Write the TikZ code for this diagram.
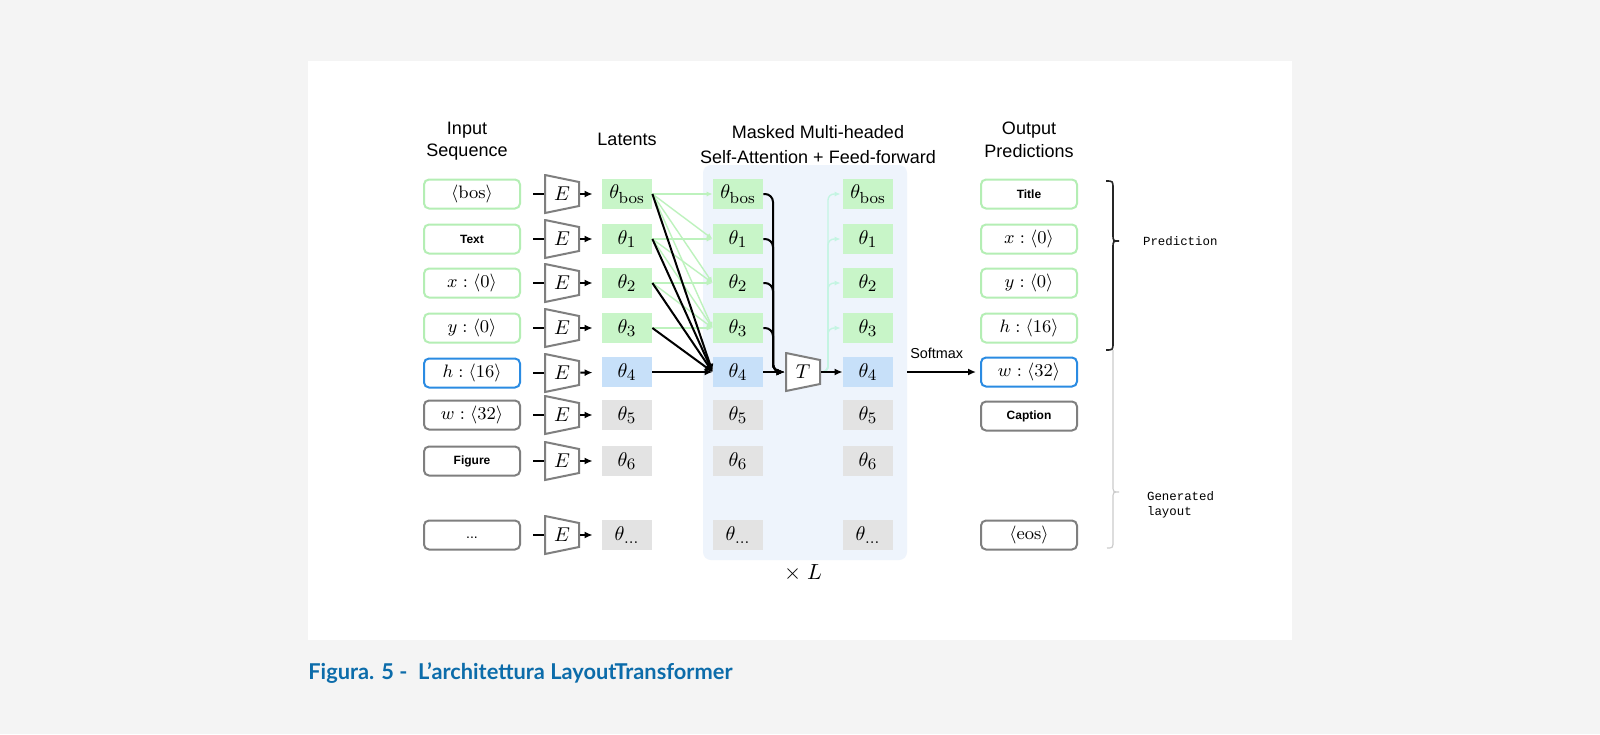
\documentclass[tikz,border=0pt]{standalone}
\usepackage[no-math]{fontspec}
\setmainfont{Liberation Sans}
\setsansfont{Liberation Sans}
\setmonofont{Liberation Mono}
\newfontfamily\latofont{Lato}
\DeclareMathSizes{10}{10}{8}{6}
\usetikzlibrary{arrows.meta}
\definecolor{pagegray}{HTML}{F4F4F4}
\definecolor{latgreen}{HTML}{C8F5C8}
\definecolor{edgegreen}{HTML}{B4EEB4}
\definecolor{attgreen}{HTML}{BDF2BD}
\definecolor{mint}{HTML}{C4F4E2}
\definecolor{latblue}{HTML}{C7E0F9}
\definecolor{edgeblue}{HTML}{2A8BE2}
\definecolor{latgray}{HTML}{E3E3E3}
\definecolor{edgegray}{HTML}{7F7F7F}
\definecolor{panelblue}{HTML}{EEF4FC}
\definecolor{capblue}{HTML}{0C6CAA}

\begin{document}
\begin{tikzpicture}[x=0.5pt,y=-0.5pt,
  every node/.style={font=\fontsize{10}{12}\selectfont},
  tok/.style={draw, rounded corners=2.5pt, line width=1pt, fill=white, minimum width=48pt, minimum height=14.5pt, inner sep=0pt, font=\fontsize{9}{10}\selectfont},
  tokg/.style={tok, draw=edgegreen},
  tokb/.style={tok, draw=edgeblue},
  tokk/.style={tok, draw=edgegray},
  word/.style={font=\fontsize{6}{7}\selectfont\bfseries},
  lat/.style={minimum width=25pt, minimum height=15pt, inner sep=0pt},
  latg/.style={lat, fill=latgreen},
  latb/.style={lat, fill=latblue},
  latk/.style={lat, fill=latgray},
  enc/.style={minimum width=18pt, minimum height=20pt, inner sep=0pt,
    path picture={\draw[edgegray, line width=1pt, fill=white]
      ([shift={(0.5pt,-0.5pt)}]path picture bounding box.north west) --
      ([shift={(-0.5pt,-4pt)}]path picture bounding box.north east) --
      ([shift={(-0.5pt,4pt)}]path picture bounding box.south east) --
      ([shift={(0.5pt,0.5pt)}]path picture bounding box.south west) -- cycle;}},
  conn/.style={line width=1pt, -{Latex[length=4pt,width=3.5pt]}},
  att/.style={draw=attgreen, line width=0.7pt, -{Latex[length=3pt,width=2.6pt]}},
  up/.style={draw=mint, line width=0.7pt, rounded corners=3pt, -{Latex[length=3pt,width=2.6pt]}},
  head/.style={align=center, font=\fontsize{9}{11.3}\selectfont}
]
  \fill[pagegray] (0,0) rectangle (1600,734);
  \useasboundingbox (0,0) rectangle (1600,734);
  \fill[white] (308,61) rectangle (1292,640);
  \fill[panelblue, rounded corners=4pt] (703,165) rectangle (907,560);

  \node[head] (hin) at (467,141) {Input\\Sequence};
  \node[head] (hlat) at (627,139) {Latents};
  \node[head, font=\fontsize{9}{12.5}\selectfont] (hatt) at (818,145) {Masked Multi-headed\\Self-Attention + Feed-forward};
  \node[head] (hout) at (1029,140) {Output\\Predictions};

  \node[tokg] (in0) at (472,194) {$\langle\mathrm{bos}\rangle$};
  \node[tokg, word] (in1) at (472,239) {Text};
  \node[tokg] (in2) at (472,283) {$x:\langle 0\rangle$};
  \node[tokg] (in3) at (472,328) {$y:\langle 0\rangle$};
  \node[tokb] (in4) at (472,373) {$h:\langle 16\rangle$};
  \node[tokk] (in5) at (472,415) {$w:\langle 32\rangle$};
  \node[tokk, word] (in6) at (472,461) {Figure};
  \node[tokk, font=\fontsize{7}{8}\selectfont, text height=3pt] (in7) at (472,535) {...};

  \node[enc] (e0) at (562,194) {$E$};
  \node[enc] (e1) at (562,239) {$E$};
  \node[enc] (e2) at (562,283) {$E$};
  \node[enc] (e3) at (562,328) {$E$};
  \node[enc] (e4) at (562,373) {$E$};
  \node[enc] (e5) at (562,415) {$E$};
  \node[enc] (e6) at (562,461) {$E$};
  \node[enc] (e7) at (562,535) {$E$};

  \node[latg] (a0) at (627,194) {$\theta_{\mathrm{bos}}$};
  \node[latg] (a1) at (627,239) {$\theta_1$};
  \node[latg] (a2) at (627,283) {$\theta_2$};
  \node[latg] (a3) at (627,328) {$\theta_3$};
  \node[latb] (a4) at (627,372) {$\theta_4$};
  \node[latk] (a5) at (627,415) {$\theta_5$};
  \node[latk] (a6) at (627,461) {$\theta_6$};
  \node[latk] (a7) at (627,535) {$\theta_{\dots}$};

  \node[latg] (m0) at (738,194) {$\theta_{\mathrm{bos}}$};
  \node[latg] (m1) at (738,239) {$\theta_1$};
  \node[latg] (m2) at (738,283) {$\theta_2$};
  \node[latg] (m3) at (738,328) {$\theta_3$};
  \node[latb] (m4) at (738,372) {$\theta_4$};
  \node[latk] (m5) at (738,415) {$\theta_5$};
  \node[latk] (m6) at (738,461) {$\theta_6$};
  \node[latk] (m7) at (738,535) {$\theta_{\dots}$};

  \node[enc] (t) at (803,372) {$T$};

  \node[latg] (o0) at (868,194) {$\theta_{\mathrm{bos}}$};
  \node[latg] (o1) at (868,239) {$\theta_1$};
  \node[latg] (o2) at (868,283) {$\theta_2$};
  \node[latg] (o3) at (868,328) {$\theta_3$};
  \node[latb] (o4) at (868,372) {$\theta_4$};
  \node[latk] (o5) at (868,415) {$\theta_5$};
  \node[latk] (o6) at (868,461) {$\theta_6$};
  \node[latk] (o7) at (868,535) {$\theta_{\dots}$};

  \node[tokg, word] (p0) at (1029,194) {Title};
  \node[tokg] (p1) at (1029,239) {$x:\langle 0\rangle$};
  \node[tokg] (p2) at (1029,283) {$y:\langle 0\rangle$};
  \node[tokg] (p3) at (1029,328) {$h:\langle 16\rangle$};
  \node[tokb] (p4) at (1029,372) {$w:\langle 32\rangle$};
  \node[tokk, word] (p5) at (1029,416) {Caption};
  \node[tokk] (p7) at (1029,535) {$\langle\mathrm{eos}\rangle$};

  \draw[line width=1pt, shorten <=6pt] (in0) -- (e0);
  \draw[line width=1pt, shorten <=6pt] (in1) -- (e1);
  \draw[line width=1pt, shorten <=6pt] (in2) -- (e2);
  \draw[line width=1pt, shorten <=6pt] (in3) -- (e3);
  \draw[line width=1pt, shorten <=6pt] (in4) -- (e4);
  \draw[line width=1pt, shorten <=6pt] (in5) -- (e5);
  \draw[line width=1pt, shorten <=6pt] (in6) -- (e6);
  \draw[line width=1pt, shorten <=6pt] (in7) -- (e7);

  \draw[conn, shorten >=4.5pt] (e0) -- (a0);
  \draw[conn, shorten >=4.5pt] (e1) -- (a1);
  \draw[conn, shorten >=4.5pt] (e2) -- (a2);
  \draw[conn, shorten >=4.5pt] (e3) -- (a3);
  \draw[conn, shorten >=4.5pt] (e4) -- (a4);
  \draw[conn, shorten >=4.5pt] (e5) -- (a5);
  \draw[conn, shorten >=4.5pt] (e6) -- (a6);
  \draw[conn, shorten >=4.5pt] (e7) -- (a7);

  \draw[att] (a0.east) -- (m0.west);
  \draw[att] (a0.east) -- (m1.west);
  \draw[att] (a0.east) -- (m2.west);
  \draw[att] (a0.east) -- (m3.west);
  \draw[att] (a1.east) -- (m1.west);
  \draw[att] (a1.east) -- (m2.west);
  \draw[att] (a1.east) -- (m3.west);
  \draw[att] (a2.east) -- (m2.west);
  \draw[att] (a2.east) -- (m3.west);
  \draw[att] (a3.east) -- (m3.west);

  \draw[conn] (a0.east) -- (m4.west);
  \draw[conn] (a1.east) -- (m4.west);
  \draw[conn] (a2.east) -- (m4.west);
  \draw[conn] (a3.east) -- (m4.west);
  \draw[conn] (a4.east) -- (m4.west);

  \coordinate (bus) at (773,372);
  \draw[conn, rounded corners=4pt] (m0.east) -| (bus) -- (t.west);
  \draw[conn, rounded corners=4pt] (m1.east) -| (bus) -- (t.west);
  \draw[conn, rounded corners=4pt] (m2.east) -| (bus) -- (t.west);
  \draw[conn, rounded corners=4pt] (m3.east) -| (bus) -- (t.west);
  \draw[conn] (m4) -- (t);

  \coordinate (rise) at (828,372);
  \draw[up, shorten >=1pt] (t.east) -- (rise) |- (o0.west);
  \draw[up, shorten >=1pt] (t.east) -- (rise) |- (o1.west);
  \draw[up, shorten >=1pt] (t.east) -- (rise) |- (o2.west);
  \draw[up, shorten >=1pt] (t.east) -- (rise) |- (o3.west);
  \draw[conn] (t) -- (o4);

  \draw[conn, shorten <=7pt, shorten >=2pt] (o4) -- node[above=3pt, font=\fontsize{7.2}{8}\selectfont] (smax) {Softmax} (p4);

  \node[font=\fontsize{11}{13}\selectfont] (xl) at (803,573) {$\times\;L$};

  \draw[line width=0.8pt, black!85] (1106,181) .. controls (1113,181) .. (1113,189) -- (1113,234) .. controls (1113,241) .. (1119,241) .. controls (1113,241) .. (1113,248) -- (1113,342) .. controls (1113,350) .. (1106,350);
  \draw[line width=0.6pt, black!20] (1113,350) -- (1113,485) .. controls (1113,492) .. (1119,492) .. controls (1113,492) .. (1113,499) -- (1113,540) .. controls (1113,548) .. (1107,548);
  \node[anchor=west, font=\fontsize{6.2}{7.5}\selectfont\ttfamily] (pred) at (1136,241) {Prediction};
  \node[anchor=west, align=left, font=\fontsize{6.2}{7.5}\selectfont\ttfamily] (gen) at (1140,505) {Generated\\layout};

  \node[anchor=west, inner sep=0pt, text=capblue, font=\latofont\bfseries\fontsize{10.9}{12}\selectfont] (caption) at (308,673) {Figura. 5 -\ \ L’architettura LayoutTransformer};
\end{tikzpicture}
\end{document}
